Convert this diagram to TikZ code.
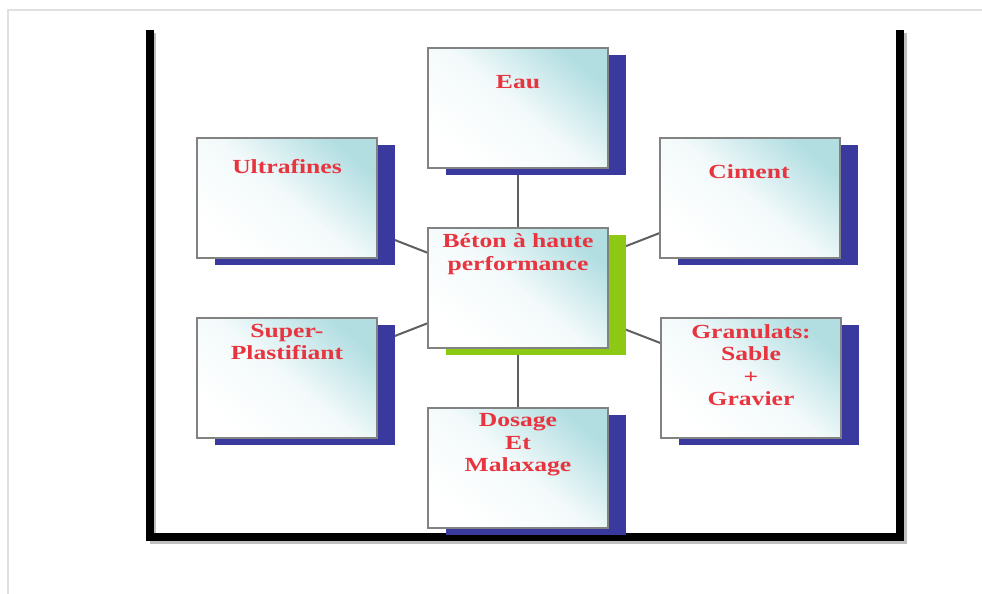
\documentclass[tikz,border=0pt]{standalone}
\usepackage{fontspec}
\usetikzlibrary{shadows,backgrounds}
\newfontfamily\boxfont[FakeStretch=1.28]{Liberation Serif}
\definecolor{txtred}{RGB}{232,52,62}
\definecolor{shblue}{RGB}{58,58,158}
\definecolor{shgreen}{RGB}{140,200,20}
\definecolor{cyanlt}{RGB}{178,222,226}
\definecolor{edgegray}{RGB}{130,130,130}
\definecolor{linkgray}{RGB}{95,95,95}
\begin{document}
\begin{tikzpicture}[x=1pt,y=-1pt,
  card/.style={draw=edgegray,line width=1.6pt,minimum width=180pt,minimum height=120pt,inner sep=0pt,
    top color=cyanlt,bottom color=white,middle color=white!85!cyanlt,shading angle=-40,
    general shadow={fill=shblue,shadow xshift=18pt,shadow yshift=-7pt}},
  hubcard/.style={card,general shadow={fill=shgreen,shadow xshift=18pt,shadow yshift=-7pt}},
  lbl/.style={font=\boxfont\bfseries\fontsize{20}{22.5}\selectfont,text=txtred,align=center,inner sep=0pt,anchor=center},
  link/.style={draw=linkgray,line width=2pt},
  frameline/.style={line width=8pt,black}]
\useasboundingbox (0,0) rectangle (982,594);
% faint outer border
\draw[black!12,line width=1.5pt] (8,594) -- (8,10) -- (982,10);
% black frame with shadow
\draw[black!25,line width=6pt] (153,33) -- (153,541) -- (904,541) -- (904,33);
\draw[frameline] (150,30) -- (150,537) -- (900,537) -- (900,30);
% cards
\node[card] (eau) at (518,108) {};
\node[hubcard] (hub) at (518,288) {};
\node[card] (ultra) at (287,198) {};
\node[card] (ciment) at (750,198) {};
\node[card] (super) at (287,378) {};
\node[card] (granu) at (751,378) {};
\node[card] (dosage) at (518,468) {};
% labels
\node[lbl] (teau) at (518,82) {Eau};
\node[lbl] (thub) at (518,254) {Béton à haute\\performance};
\node[lbl] (tultra) at (287,167) {Ultrafines};
\node[lbl] (tciment) at (749,172) {Ciment};
\node[lbl] (tsuper) at (287,342) {Super-\\Plastifiant};
\node[lbl] (tgranu) at (751,365) {Granulats:\\Sable\\+\\Gravier};
\node[lbl] (tdosage) at (518,445) {Dosage\\Et\\Malaxage};
% connectors
\begin{scope}[on background layer]
\draw[link] (hub.center) -- (eau.center);
\draw[link] (hub.center) -- (dosage.center);
\draw[link] (hub.center) -- (ultra.center);
\draw[link] (hub.center) -- (ciment.center);
\draw[link] (hub.center) -- (super.center);
\draw[link] (hub.center) -- (granu.center);
\end{scope}
\end{tikzpicture}
\end{document}
